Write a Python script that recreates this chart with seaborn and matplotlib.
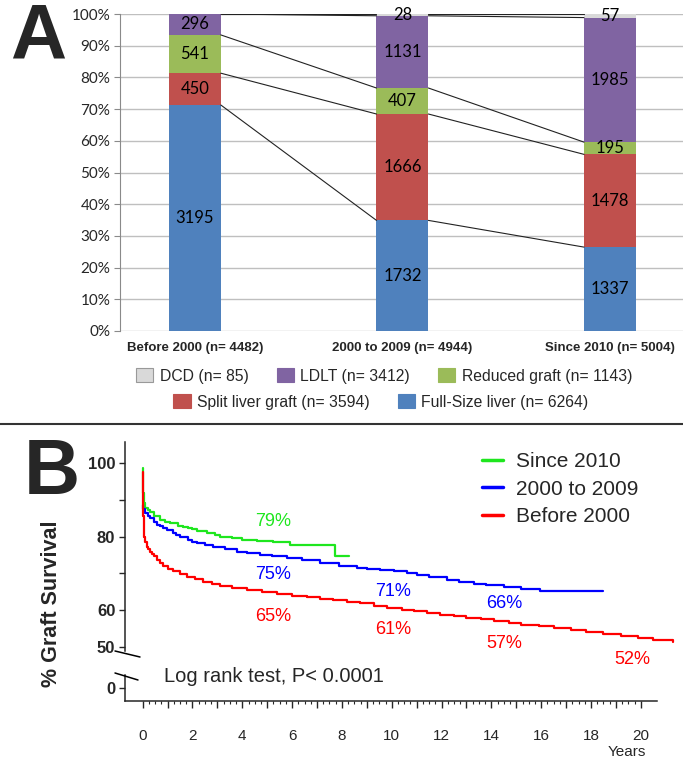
import numpy as np
import pandas as pd
import matplotlib.pyplot as plt
from matplotlib.patches import Patch
from matplotlib.lines import Line2D
from matplotlib.ticker import FixedLocator
import seaborn as sns


# ==================================
# DATA
# ==================================

periods = ["Before 2000 (n= 4482)", "2000 to 2009 (n= 4944)", "Since 2010 (n= 5004)"]

full_size = [3195, 1732, 1337]
split_liver = [450, 1666, 1478]
reduced_graft = [541, 407, 195]
ldlt = [296, 1131, 1985]
dcd = [0, 28, 57]

graft_names = ["Full-Size liver", "Split liver graft", "Reduced graft", "LDLT", "DCD"]
graft_totals = [6264, 3594, 1143, 3412, 85]
graft_colors = ["#4f81bd", "#c0504d", "#9bbb59", "#8064a2", "#d9d9d9"]

# Kaplan-Meier steps (years, % graft survival)
since2010_t = [0, 0.02, 0.05, 0.1, 0.2, 0.3, 0.45, 0.7, 0.9, 1.1, 1.4, 1.6, 1.8, 2.0,
               2.2, 2.6, 2.9, 3.1, 3.6, 4.0, 4.6, 5.25, 5.9, 7.72, 8.3]
since2010_s = [98.6, 91.8, 89.1, 87.7, 87.2, 86.8, 85.6, 84.5, 84.1, 83.8, 83.0, 82.7,
               82.3, 82.0, 81.6, 80.9, 80.4, 80.0, 79.6, 79.1, 78.8, 78.4, 77.7, 74.7, 74.7]

y2000_t = [0, 0.03, 0.1, 0.2, 0.3, 0.45, 0.57, 0.7, 0.8, 0.97, 1.2, 1.35, 1.5, 1.8,
           2.0, 2.17, 2.5, 2.84, 3.3, 3.78, 4.2, 4.72, 5.2, 5.79, 6.4, 7.12, 7.9, 8.6,
           9.0, 9.53, 10.1, 10.6, 11.0, 11.5, 12.2, 12.7, 13.3, 13.8, 14.5, 15.2,
           15.96, 18.5]
y2000_s = [88.6, 87.5, 86.4, 85.7, 85.0, 84.0, 83.2, 82.8, 82.4, 81.8, 80.9, 80.4,
           80.0, 79.1, 78.6, 78.2, 77.7, 77.3, 76.6, 75.9, 75.4, 75.0, 74.6, 74.1,
           73.5, 72.8, 72.0, 71.4, 71.1, 70.8, 70.5, 70.1, 69.6, 69.1, 68.2, 67.5,
           67.2, 66.9, 66.3, 65.7, 65.1, 65.1]

before2000_t = [0, 0.02, 0.05, 0.1, 0.16, 0.22, 0.29, 0.37, 0.45, 0.57, 0.7, 0.83,
                1.0, 1.23, 1.5, 1.77, 2.1, 2.44, 2.8, 3.1, 3.6, 4.18, 4.8, 5.39, 6.0,
                6.59, 7.1, 7.66, 8.2, 8.73, 9.3, 9.8, 10.4, 10.9, 11.4, 11.94, 12.5,
                13.0, 13.6, 14.1, 14.7, 15.2, 15.9, 16.5, 17.2, 17.8, 18.5, 19.2,
                19.9, 20.5, 21.3]
before2000_s = [97.7, 85.5, 80.0, 78.5, 77.3, 76.5, 75.9, 75.2, 74.6, 73.7, 72.8,
                72.0, 71.3, 70.5, 69.7, 69.1, 68.4, 67.7, 67.1, 66.6, 66.0, 65.5, 64.9,
                64.4, 63.9, 63.5, 63.0, 62.6, 62.3, 61.9, 61.2, 60.5, 60.1, 59.6, 59.2,
                58.7, 58.3, 57.8, 57.4, 56.9, 56.5, 56.0, 55.6, 55.1, 54.5, 53.9, 53.4,
                52.8, 52.3, 51.9, 51.2]

curve_names = ["Since 2010", "2000 to 2009", "Before 2000"]
curve_colors = ["#1ee61e", "#0000ff", "#ff0000"]

# survival labels: text, year, % position, colour index
surv_labels = ["79%", "75%", "65%", "71%", "61%", "66%", "57%", "52%"]
surv_years = [5.25, 5.25, 5.25, 10.07, 10.07, 14.5, 14.5, 19.65]
surv_pos = [84.1, 69.6, 58.3, 65.15, 54.65, 61.65, 50.85, 46.4]
surv_color = [0, 1, 2, 1, 2, 1, 2, 2]


# ==================================
# FIGURE
# ==================================

sns.set_style("white")
plt.rcParams["font.family"] = ["Liberation Sans", "DejaVu Sans"]

W, H = 683, 763
fig = plt.figure(figsize=(W / 100, H / 100), dpi=100)


def px_axes(left, top, right, bottom):
    return fig.add_axes([left / W, 1 - bottom / H, (right - left) / W, (bottom - top) / H])


def fx(x):
    return x / W


def fy(y):
    return 1 - y / H


# ==================================
# PANEL A - STACKED BARS
# ==================================

axA = px_axes(120, 14, 683, 331)

counts = pd.DataFrame(
    {
        "Full-Size liver": full_size,
        "Split liver graft": split_liver,
        "Reduced graft": reduced_graft,
        "LDLT": ldlt,
        "DCD": dcd,
    },
    index=periods,
)
pct = counts.div(counts.sum(axis=1), axis=0) * 100
cum = pct.cumsum(axis=1)

for name, color in reversed(list(zip(graft_names, graft_colors))):
    sns.barplot(
        x=periods,
        y=cum[name].values,
        color=color,
        saturation=1,
        width=0.25,
        linewidth=0,
        ax=axA,
        zorder=3,
    )

# data labels
for i in range(len(periods)):
    for name in graft_names:
        v = counts[name].iloc[i]
        if v > 0:
            axA.text(i, cum[name].iloc[i] - pct[name].iloc[i] / 2, str(v),
                     ha="center", va="center", fontsize=12, family="Lato",
                     color="black", zorder=5)

# series lines between bars
for i in range(len(periods) - 1):
    for name in graft_names:
        axA.plot([i + 0.125, i + 1 - 0.125],
                 [cum[name].iloc[i], cum[name].iloc[i + 1]],
                 color="#222222", lw=0.8, zorder=4)

axA.set_xlim(-0.361, 2.352)
axA.set_ylim(0, 100)
axA.set_yticks(range(0, 101, 10))
axA.set_yticklabels([f"{v}%" for v in range(0, 101, 10)], family="Lato", fontsize=11)
axA.yaxis.grid(True, color="#bfbfbf", lw=1)
axA.set_axisbelow(True)
for s in ["top", "right", "bottom"]:
    axA.spines[s].set_visible(False)
axA.spines["left"].set_color("#8a8a8a")
axA.tick_params(axis="y", length=4, color="#8a8a8a", left=True, pad=3)
axA.tick_params(axis="x", length=0, pad=8)
for lab in axA.get_xticklabels():
    lab.set_fontweight("bold")
    lab.set_fontsize(9.5)
axA.set_xlabel("")
axA.set_ylabel("")

# legend rows
handles = [Patch(facecolor=c, edgecolor="#999999" if n == "DCD" else c, lw=0.8,
                 label=f"{n} (n= {t})")
           for n, t, c in zip(graft_names, graft_totals, graft_colors)]
leg1 = fig.legend(handles=[handles[4], handles[3], handles[2]], loc="center",
                  bbox_to_anchor=(fx(384), fy(376)), ncol=3, frameon=False,
                  fontsize=11.3, handlelength=1.1, handleheight=0.95,
                  handletextpad=0.4, columnspacing=1.8, borderpad=0)
leg2 = fig.legend(handles=[handles[1], handles[0]], loc="center",
                  bbox_to_anchor=(fx(381), fy(402)), ncol=2, frameon=False,
                  fontsize=11.3, handlelength=1.1, handleheight=0.95,
                  handletextpad=0.4, columnspacing=1.8, borderpad=0)

fig.add_artist(Line2D([0, 1], [fy(424), fy(424)], color="#333333", lw=1.5))

fig.text(fx(38), fy(38), "A", fontsize=56, fontweight="bold", ha="center", va="center")
fig.text(fx(52), fy(474), "B", fontsize=56, fontweight="bold", ha="center", va="center")


# ==================================
# PANEL B - GRAFT SURVIVAL
# ==================================

axB = px_axes(125, 442, 657, 651)
axB0 = px_axes(125, 675, 657, 701)

curves = [(since2010_t, since2010_s), (y2000_t, y2000_s), (before2000_t, before2000_s)]
for (t, s), name, color in zip(curves, curve_names, curve_colors):
    sns.lineplot(x=t, y=s, color=color, lw=1.6, drawstyle="steps-post",
                 estimator=None, sort=False, clip_on=False, ax=axB)

for txt, yr, pos, ci in zip(surv_labels, surv_years, surv_pos, surv_color):
    axB.text(yr, pos, txt, color=curve_colors[ci], fontsize=13,
             ha="center", va="center")

xmin, xmax = -0.71, 20.65
for ax in (axB, axB0):
    ax.set_xlim(xmin, xmax)
    ax.patch.set_alpha(0)
    for s in ["top", "right"]:
        ax.spines[s].set_visible(False)
    ax.spines["left"].set_linewidth(1.1)
    ax.spines["bottom"].set_linewidth(1.1)

axB.spines["bottom"].set_visible(False)
axB.set_ylim(48.8, 105.8)
axB.set_yticks([50, 60, 70, 80, 90, 100])
axB.set_yticklabels(["50", "60", "", "80", "", "100"], fontweight="bold", fontsize=12)
axB.tick_params(axis="y", direction="out", length=4, width=1, left=True, pad=3)
axB.tick_params(axis="x", bottom=False, labelbottom=False)

axB0.set_ylim(-3.54, 3.54)
axB0.set_yticks([0])
axB0.set_yticklabels(["0"], fontweight="bold", fontsize=12)
axB0.tick_params(axis="y", direction="out", length=4, width=1, left=True, pad=3)
axB0.set_xticks(range(0, 21))
axB0.set_xticklabels([str(v) if v % 2 == 0 else "" for v in range(0, 21)], fontsize=11)
axB0.xaxis.set_minor_locator(FixedLocator(np.arange(0, 20.01, 0.25)))
axB0.tick_params(axis="x", which="major", direction="out", length=5, width=1,
                 bottom=True, pad=15)
axB0.tick_params(axis="x", which="minor", direction="out", length=2.5, width=0.8,
                 bottom=True)

axB.set_ylabel("")
axB0.set_ylabel("")

legend_handles = [Line2D([], [], color=c, lw=2.5) for c in curve_colors]
axB.legend(legend_handles, curve_names, loc="upper left",
           bbox_to_anchor=((482 - 125) / 532, (651 - 452) / 209),
           frameon=False, fontsize=15, handlelength=1.0, handletextpad=0.65,
           labelspacing=0.42, borderpad=0, borderaxespad=0)

fig.text(fx(164), fy(676), "Log rank test, P< 0.0001",
         fontsize=14.5, ha="left", va="center", zorder=10)

fig.text(fx(52), fy(604), "% Graft Survival", rotation=90, fontsize=15.5,
         fontweight="bold", ha="center", va="center")
fig.text(fx(627), fy(752), "Years", fontsize=11, ha="center", va="center")

# axis break marks
fig.add_artist(Line2D([fx(115), fx(140)], [fy(651), fy(657)], color="black", lw=1.1))
fig.add_artist(Line2D([fx(115), fx(138)], [fy(673), fy(680)], color="black", lw=1.1))

plt.savefig("out.png", dpi=100)
plt.close()
